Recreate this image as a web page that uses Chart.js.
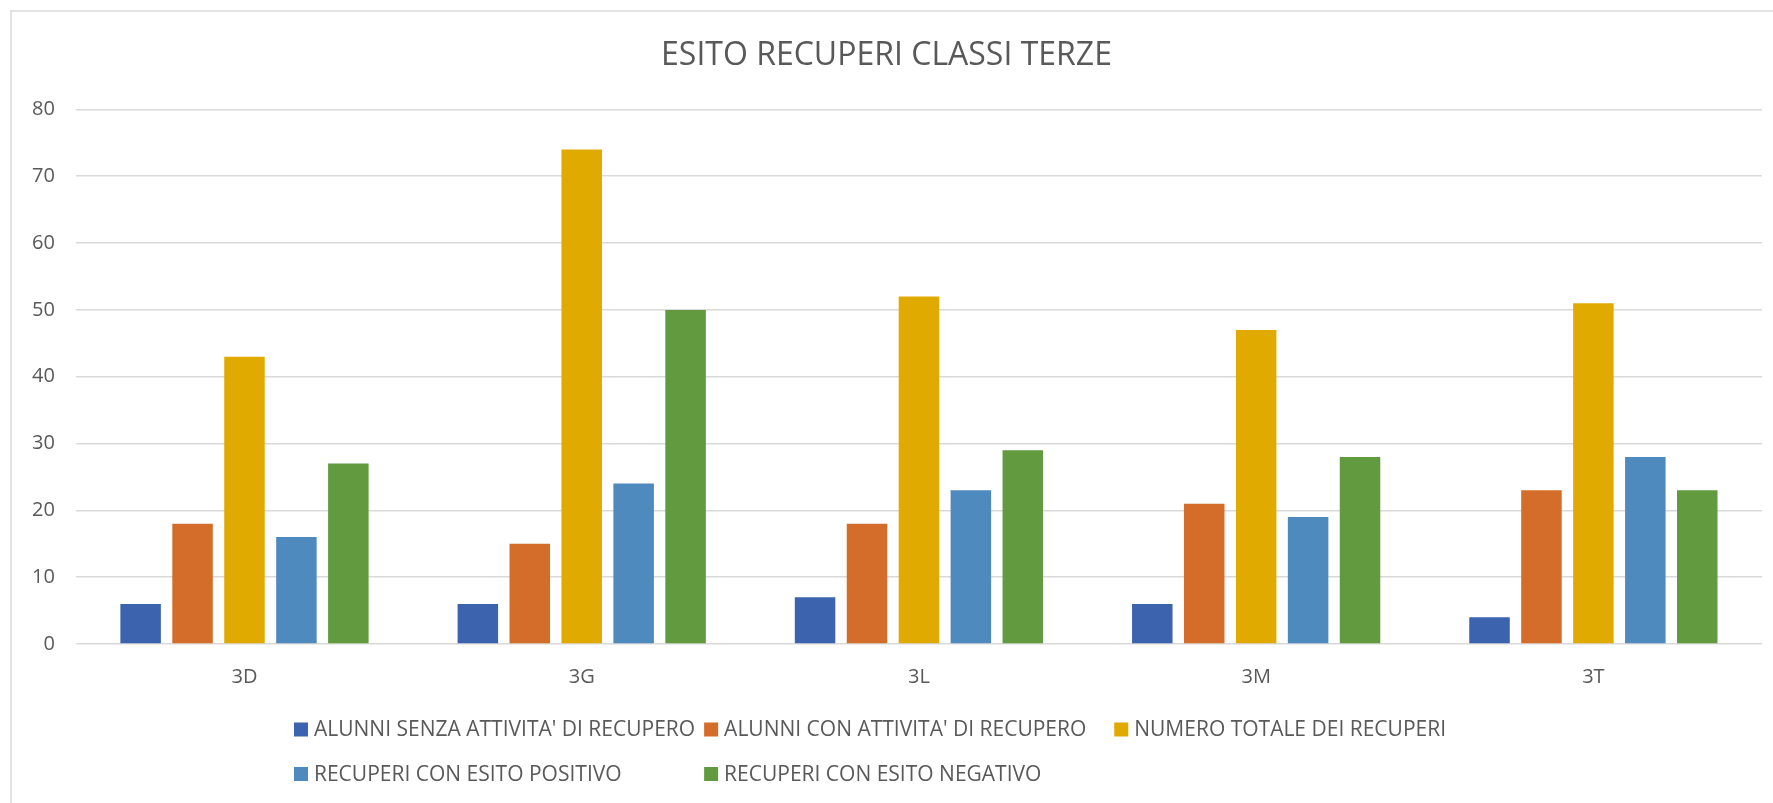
<!DOCTYPE html>
<html>
<head>
<meta charset="utf-8">
<script src="https://cdn.jsdelivr.net/npm/chart.js"></script>
<style>
  html, body { margin: 0; padding: 0; background: #fff; }
</style>
</head>
<body>
<canvas id="esito" width="1773" height="803"></canvas>
<script>
// dati
const classi = ['3D', '3G', '3L', '3M', '3T'];
const senzaAttivita = [6, 6, 7, 6, 4];
const conAttivita = [18, 15, 18, 21, 23];
const totaleRecuperi = [43, 74, 52, 47, 51];
const esitoPositivo = [16, 24, 23, 19, 28];
const esitoNegativo = [27, 50, 29, 28, 23];

const grigio = '#595959';
const font = 'Open Sans';

// cornice del grafico (solo lati sinistro e superiore visibili)
const cornice = {
    id: 'cornice',
    beforeDraw(chart) {
        const ctx = chart.ctx;
        ctx.save();
        ctx.fillStyle = '#fff';
        ctx.fillRect(0, 0, chart.width, chart.height);
        ctx.strokeStyle = '#d9d9d9';
        ctx.lineWidth = 1.5;
        ctx.beginPath();
        ctx.moveTo(11, chart.height);
        ctx.lineTo(11, 11);
        ctx.lineTo(chart.width, 11);
        ctx.stroke();
        ctx.restore();
    }
};

// legenda a colonne come in Excel
const legendaGriglia = {
    id: 'legendaGriglia',
    afterDraw(chart) {
        const ctx = chart.ctx;
        const sets = chart.data.datasets;
        const box = 14, gap = 6, colGap = 9, perRow = 3;
        ctx.save();
        ctx.font = '21px "' + font + '"';
        const widths = sets.map(d => ctx.measureText(d.label).width);
        const colW = box + gap + Math.max(...widths) + colGap;
        const rowW = colW * (perRow - 1) + box + gap + widths[perRow - 1];
        const x0 = (chart.width - 33 - rowW) / 2;
        const rows = [chart.height - 73.5, chart.height - 29];
        ctx.textBaseline = 'middle';
        ctx.textAlign = 'left';
        sets.forEach((d, i) => {
            const x = x0 + (i % perRow) * colW;
            const y = rows[Math.floor(i / perRow)];
            ctx.fillStyle = d.backgroundColor;
            ctx.fillRect(x, y - box / 2, box, box);
            ctx.fillStyle = grigio;
            ctx.fillText(d.label, x + box + gap, y + 1);
        });
        ctx.restore();
    }
};

new Chart(document.getElementById('esito').getContext('2d'), {
    type: 'bar',
    data: {
        labels: classi,
        datasets: [
            { label: "ALUNNI SENZA ATTIVITA' DI RECUPERO", data: senzaAttivita, backgroundColor: '#3c64ae' },
            { label: "ALUNNI CON ATTIVITA' DI RECUPERO", data: conAttivita, backgroundColor: '#d46d29' },
            { label: 'NUMERO TOTALE DEI RECUPERI', data: totaleRecuperi, backgroundColor: '#e1aa00' },
            { label: 'RECUPERI CON ESITO POSITIVO', data: esitoPositivo, backgroundColor: '#4e8abe' },
            { label: 'RECUPERI CON ESITO NEGATIVO', data: esitoNegativo, backgroundColor: '#619a3f' }
        ]
    },
    options: {
        responsive: false,
        animation: false,
        categoryPercentage: 0.77,
        barPercentage: 0.78,
        layout: { padding: { top: 37, left: 11, right: 11, bottom: 93 } },
        plugins: {
            legend: { display: false },
            tooltip: { enabled: false },
            title: {
                display: true,
                text: 'ESITO RECUPERI CLASSI TERZE',
                color: grigio,
                font: { family: font, size: 32, weight: 'normal' },
                padding: { top: 0, bottom: 34 }
            }
        },
        scales: {
            x: {
                grid: { display: false, drawTicks: false },
                border: { display: false },
                ticks: { color: grigio, font: { family: font, size: 20 }, padding: 21 }
            },
            y: {
                min: 0,
                max: 80,
                ticks: { stepSize: 10, color: grigio, font: { family: font, size: 20 }, padding: 21 },
                grid: { color: '#d9d9d9', lineWidth: 1.5, drawTicks: false },
                border: { display: false }
            }
        }
    },
    plugins: [cornice, legendaGriglia]
});
</script>
</body>
</html>
